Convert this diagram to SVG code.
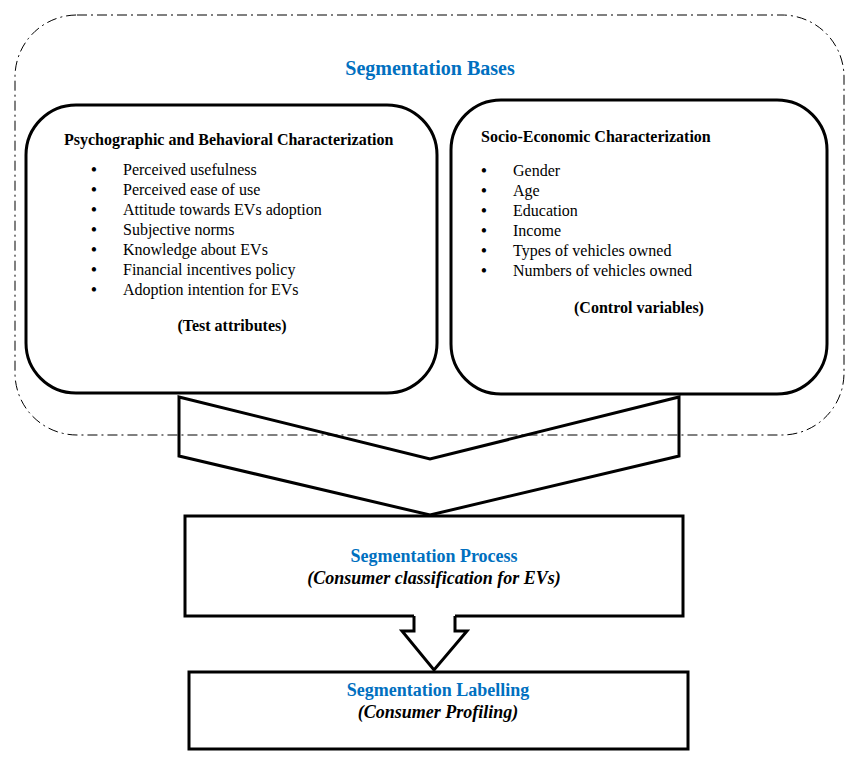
<svg xmlns="http://www.w3.org/2000/svg" width="863" height="763" viewBox="0 0 863 763">
<style>
text{font-family:"Liberation Serif","Times New Roman",serif;fill:#000}
.b{font-weight:bold}
.blue{fill:#0070C0;font-weight:bold}
.bi{font-weight:bold;font-style:italic}
.it{font-size:16px}
.box{fill:#fff;stroke:#000;stroke-width:3}
.dash{fill:none;stroke:#000;stroke-width:1;stroke-dasharray:10 4 2 4}
.bul{font-size:18px;text-anchor:middle}
</style>
<rect width="863" height="763" fill="#fff"/>
<g id="segmentation-bases">
<rect class="dash" x="15" y="15" width="829" height="420" rx="62" ry="62"/>
<text class="blue" x="430" y="75" font-size="20" text-anchor="middle">Segmentation Bases</text>
</g>
<g id="psychographic">
<rect class="box" x="26" y="105" width="411" height="288" rx="50" ry="50"/>
<text class="b" x="64" y="145" font-size="16">Psychographic and Behavioral Characterization</text>
<text class="bul" x="94" y="176">•</text><text class="it" x="123" y="175">Perceived usefulness</text>
<text class="bul" x="94" y="196">•</text><text class="it" x="123" y="195">Perceived ease of use</text>
<text class="bul" x="94" y="216">•</text><text class="it" x="123" y="215">Attitude towards EVs adoption</text>
<text class="bul" x="94" y="236">•</text><text class="it" x="123" y="235">Subjective norms</text>
<text class="bul" x="94" y="256">•</text><text class="it" x="123" y="255">Knowledge about EVs</text>
<text class="bul" x="94" y="276">•</text><text class="it" x="123" y="275">Financial incentives policy</text>
<text class="bul" x="94" y="296">•</text><text class="it" x="123" y="295">Adoption intention for EVs</text>
<text class="b" x="232" y="331" font-size="16" text-anchor="middle">(Test attributes)</text>
</g>
<g id="socio-economic">
<rect class="box" x="451" y="100" width="376" height="294" rx="50" ry="50"/>
<text class="b" x="481" y="142" font-size="16">Socio-Economic Characterization</text>
<text class="bul" x="484" y="177">•</text><text class="it" x="513" y="176">Gender</text>
<text class="bul" x="484" y="197">•</text><text class="it" x="513" y="196">Age</text>
<text class="bul" x="484" y="217">•</text><text class="it" x="513" y="216">Education</text>
<text class="bul" x="484" y="237">•</text><text class="it" x="513" y="236">Income</text>
<text class="bul" x="484" y="257">•</text><text class="it" x="513" y="256">Types of vehicles owned</text>
<text class="bul" x="484" y="277">•</text><text class="it" x="513" y="276">Numbers of vehicles owned</text>
<text class="b" x="639" y="313" font-size="16" text-anchor="middle">(Control variables)</text>
</g>
<g id="process">
<rect class="box" x="185" y="516" width="498" height="100"/>
<text class="blue" x="434" y="562" font-size="18" text-anchor="middle">Segmentation Process</text>
<text class="bi" x="434" y="584" font-size="18" text-anchor="middle">(Consumer classification for EVs)</text>
</g>
<g id="labelling">
<rect class="box" x="189" y="672" width="499" height="77"/>
<text class="blue" x="438" y="696" font-size="18" text-anchor="middle">Segmentation Labelling</text>
<text class="bi" x="438" y="718" font-size="18" text-anchor="middle">(Consumer Profiling)</text>
</g>
<g id="connectors">
<path d="M179,397 L430,459 L679,397 L679,456 L430,515 L179,456 Z" fill="none" stroke="#000" stroke-width="3" stroke-linejoin="miter"/>
<path d="M414,613 L414,631 L402,631 L434,670 L467,631 L455,631 L455,613 Z" fill="#fff" stroke="none"/>
<path d="M414,616 L414,631 L402,631 L434,670 L467,631 L455,631 L455,616" fill="none" stroke="#000" stroke-width="3"/>
</g>
</svg>
